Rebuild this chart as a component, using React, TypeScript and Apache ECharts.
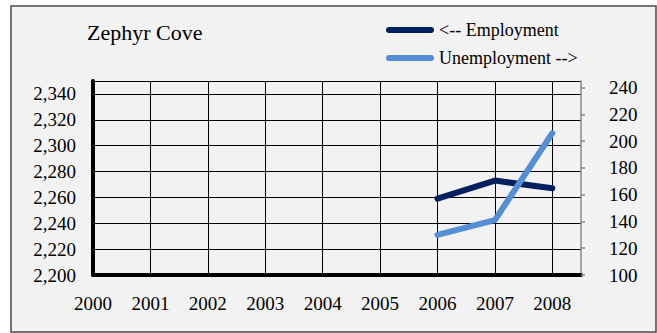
import React, { useEffect, useRef } from "react";
import * as echarts from "echarts";

const years = [2000, 2001, 2002, 2003, 2004, 2005, 2006, 2007, 2008];
const employment: (number | null)[] = [null, null, null, null, null, null, 2259, 2273, 2267];
const unemployment: (number | null)[] = [null, null, null, null, null, null, 130, 141, 206];
const titleText = "Zephyr Cove";
const seriesNames = ["<-- Employment", "Unemployment -->"];
const seriesColors = ["#002060", "#558ED5"];

const pairs = (vals: (number | null)[]) =>
  years
    .map((y, i) => [y, vals[i]])
    .filter((p) => p[1] !== null) as number[][];

const FONT = "Liberation Serif";

export default function App() {
  const ref = useRef<HTMLDivElement>(null);
  useEffect(() => {
    document.body.style.margin = "0";
    const chart = echarts.init(ref.current!, null, { renderer: "svg" });
    chart.setOption({
      animation: false,
      backgroundColor: "#ffffff",
      graphic: [
        {
          type: "rect",
          z: -100,
          silent: true,
          shape: { x: 11, y: 6, width: 645, height: 326 },
          style: { fill: "#f2f2f2", stroke: "#4a4a4a", lineWidth: 1.5 },
        },
      ],
      title: {
        text: titleText,
        left: 87,
        top: 21,
        padding: 0,
        textStyle: { fontFamily: FONT, fontSize: 22, fontWeight: "normal", color: "#000" },
      },
      legend: {
        orient: "vertical",
        left: 386,
        top: 21,
        padding: 0,
        itemGap: 10,
        itemWidth: 48,
        itemHeight: 6,
        icon: "path://M3,0 L45,0 A3,3 0 0 1 45,6 L3,6 A3,3 0 0 1 3,0 Z",
        textStyle: { fontFamily: FONT, fontSize: 18, color: "#000" },
        data: seriesNames,
      },
      grid: { left: 93, right: 76, top: 81, bottom: 58 },
      xAxis: {
        type: "value",
        min: 2000,
        max: 2008.5,
        interval: 1,
        axisLine: { onZero: false, lineStyle: { color: "#000", width: 4 } },
        axisTick: { show: false },
        axisLabel: {
          showMaxLabel: false,
          margin: 19,
          fontFamily: FONT,
          fontSize: 19,
          color: "#000",
          formatter: (v: number) => (Number.isInteger(v) ? String(v) : ""),
        },
        splitLine: { show: true, showMaxLine: false, lineStyle: { color: "#000", width: 1 } },
      },
      yAxis: [
        {
          type: "value",
          min: 2200,
          max: 2350,
          interval: 20,
          position: "left",
          axisLine: { show: true, onZero: false, lineStyle: { color: "#000", width: 4 } },
          axisTick: { show: false },
          axisLabel: {
            showMaxLabel: false,
            margin: 17,
            fontFamily: FONT,
            fontSize: 19,
            color: "#000",
            formatter: (v: number) => v.toLocaleString("en-US"),
          },
          splitLine: { show: true, lineStyle: { color: "#000", width: 1 } },
        },
        {
          type: "value",
          min: 100,
          max: 245,
          interval: 20,
          position: "right",
          axisLine: { show: true, onZero: false, lineStyle: { color: "#888888", width: 1.5 } },
          axisTick: { show: true, inside: false, length: 4, lineStyle: { color: "#888888", width: 1.5 } },
          axisLabel: {
            showMaxLabel: false,
            margin: 28,
            fontFamily: FONT,
            fontSize: 19,
            color: "#000",
          },
          splitLine: { show: false },
        },
      ],
      series: [
        {
          name: seriesNames[0],
          type: "line",
          yAxisIndex: 0,
          data: pairs(employment),
          showSymbol: false,
          symbol: "none",
          color: seriesColors[0],
          lineStyle: { color: seriesColors[0], width: 6, cap: "round", join: "round" },
        },
        {
          name: seriesNames[1],
          type: "line",
          yAxisIndex: 1,
          data: pairs(unemployment),
          showSymbol: false,
          symbol: "none",
          color: seriesColors[1],
          lineStyle: { color: seriesColors[1], width: 6, cap: "round", join: "round" },
        },
      ],
    });
    return () => chart.dispose();
  }, []);
  return <div ref={ref} style={{ width: 657, height: 333 }} />;
}
